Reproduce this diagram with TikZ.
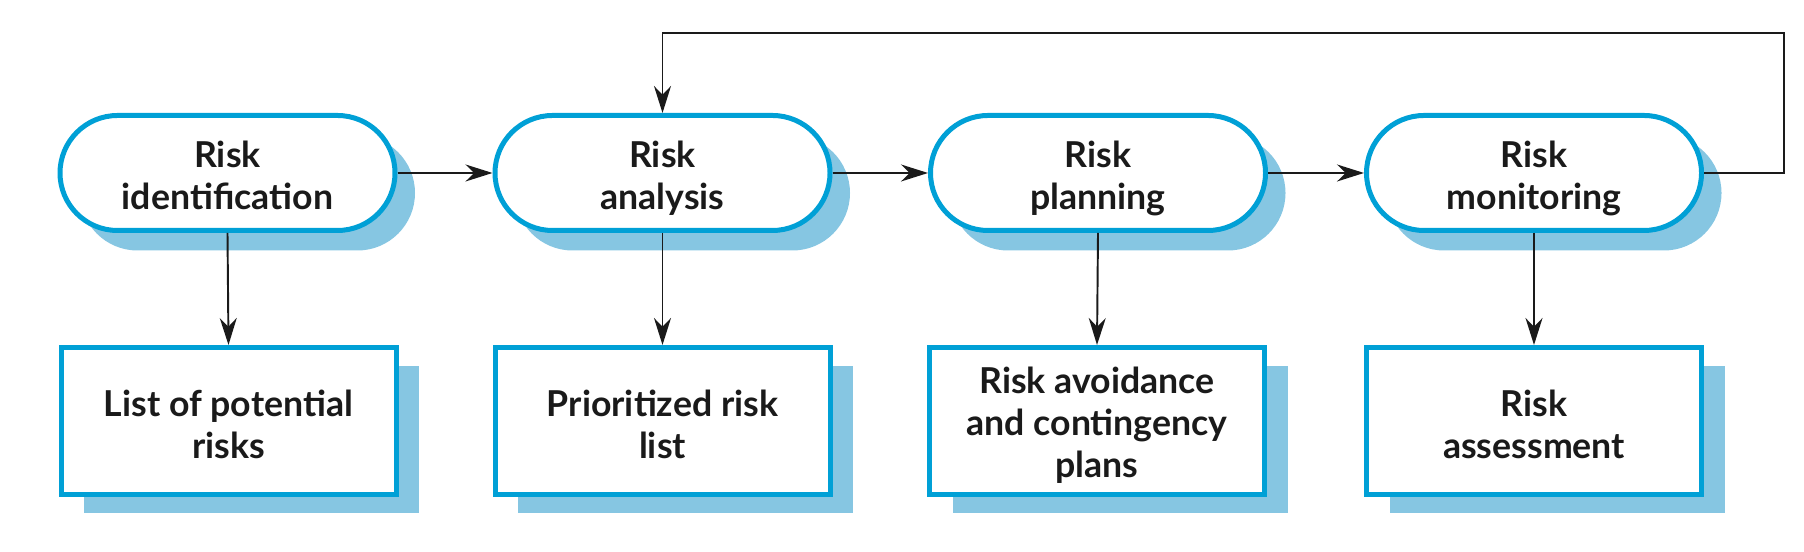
\documentclass[tikz,border=0pt]{standalone}
\usepackage{fontspec}
\setmainfont{Lato}
\usetikzlibrary{arrows.meta,shadows}

\definecolor{riskblue}{RGB}{0,160,214}
\definecolor{riskshade}{RGB}{134,198,226}
\definecolor{riskink}{RGB}{26,26,26}

\begin{document}
\begin{tikzpicture}[
	stage/.style={draw=riskblue, line width=0.1cm, fill=white, rounded corners=1.15cm,
		minimum width=6.7cm, minimum height=2.3cm, align=center, text=riskink,
		font=\fontsize{20.3}{23.9}\selectfont\bfseries, text height=44pt, text depth=2pt,
		drop shadow={shadow xshift=0.4cm, shadow yshift=-0.4cm, fill=riskshade, opacity=1}},
	output/.style={draw=riskblue, line width=0.1cm, fill=white,
		minimum width=6.7cm, minimum height=2.94cm, align=center, text=riskink,
		font=\fontsize{20.3}{23.9}\selectfont\bfseries, text height=45pt, text depth=2pt,
		drop shadow={shadow xshift=0.46cm, shadow yshift=-0.38cm, fill=riskshade, opacity=1}},
	flow/.style={draw=riskink, line width=1.1pt, -{Stealth[length=5.4mm,width=3.4mm]}}
	]
	
	\useasboundingbox (0,0) rectangle (36.08,11.04);
	
	% STAGES
	\node[stage] (ident)   at ( 4.55, 7.58) {Risk\\identification};
	\node[stage] (analysis) at (13.25, 7.58) {Risk\\analysis};
	\node[stage] (planning) at (21.96, 7.58) {Risk\\planning};
	\node[stage] (monitor) at (30.68, 7.58) {Risk\\monitoring};
	
	% OUTPUTS
	\node[output] (risks)    at ( 4.57, 2.62) {List of potential\\risks};
	\node[output] (priority) at (13.25, 2.62) {Prioritized risk\\list};
	\node[output, text height=66pt] (plans) at (21.94, 2.62) {Risk avoidance\\and contingency\\plans};
	\node[output] (assess)   at (30.68, 2.62) {Risk\\assessment};
	
	% ARROWS
	\draw[flow] (ident.east) -- (analysis.west);
	\draw[flow] (analysis.east) -- (planning.west);
	\draw[flow] (planning.east) -- (monitor.west);
	\foreach \s/\o in {ident/risks, analysis/priority, planning/plans, monitor/assess}
	\draw[flow] (\s.south) -- (\o.north);
	
	% feedback
	\draw[flow] (monitor.east) -- ++(1.6,0) |- ([yshift=1.6cm]analysis.north) -- (analysis.north);
	
\end{tikzpicture}
\end{document}
